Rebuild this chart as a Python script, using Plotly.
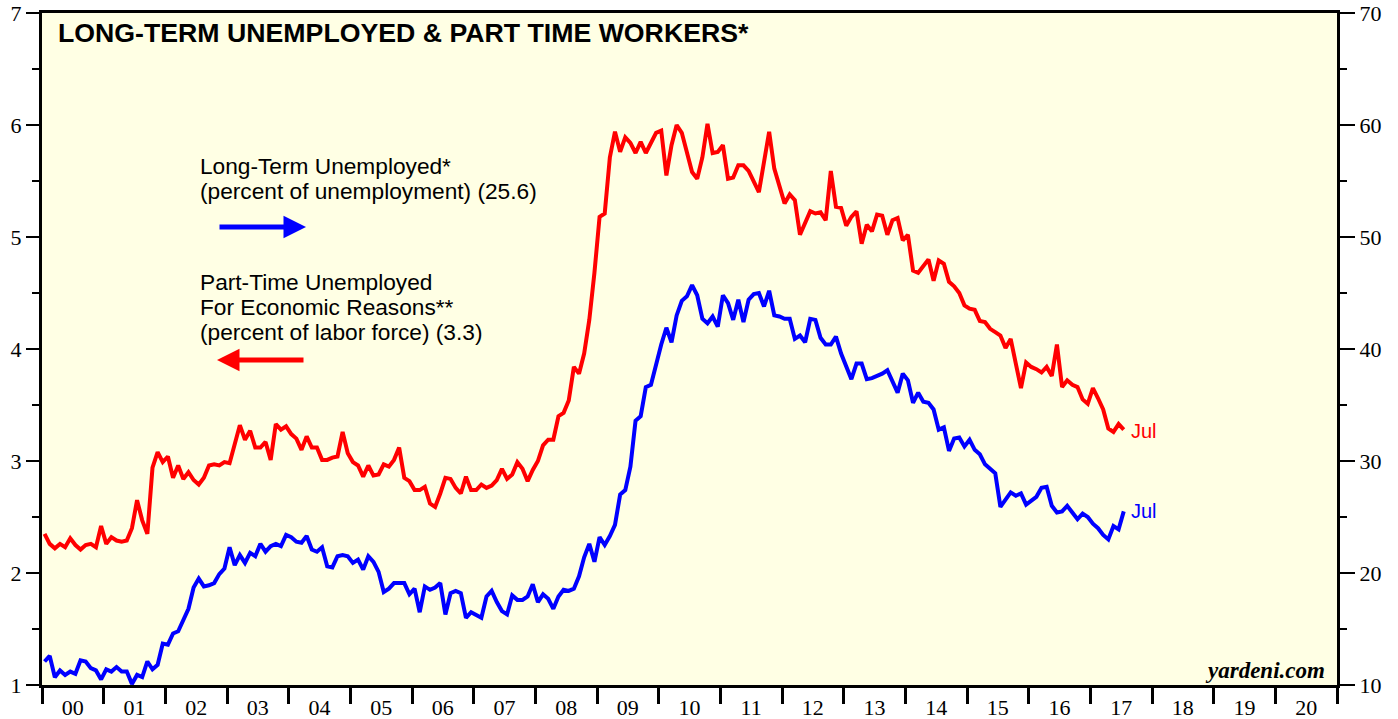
import plotly.graph_objects as go

# Part-time for economic reasons, percent of labor force (left axis), monthly Jan 2000 - Jul 2017
part_time = [
    2.35, 2.26, 2.22, 2.26, 2.23, 2.31, 2.25, 2.21, 2.25, 2.26, 2.23, 2.42,  # 2000
    2.26, 2.32, 2.29, 2.28, 2.29, 2.40, 2.65, 2.47, 2.35, 2.94, 3.08, 2.99,  # 2001
    3.04, 2.85, 2.96, 2.84, 2.90, 2.83, 2.79, 2.85, 2.96, 2.97, 2.96, 2.99,  # 2002
    2.98, 3.16, 3.32, 3.19, 3.27, 3.12, 3.12, 3.17, 3.01, 3.33, 3.28, 3.31,  # 2003
    3.24, 3.20, 3.10, 3.22, 3.12, 3.12, 3.01, 3.01, 3.03, 3.04, 3.26, 3.07,  # 2004
    2.99, 2.96, 2.86, 2.96, 2.87, 2.88, 2.97, 2.95, 3.01, 3.12, 2.85, 2.82,  # 2005
    2.74, 2.74, 2.77, 2.62, 2.59, 2.71, 2.85, 2.84, 2.76, 2.71, 2.86, 2.74,  # 2006
    2.74, 2.79, 2.76, 2.78, 2.83, 2.93, 2.84, 2.88, 2.99, 2.93, 2.82, 2.92,  # 2007
    3.00, 3.14, 3.19, 3.19, 3.40, 3.43, 3.54, 3.84, 3.78, 3.96, 4.26, 4.68,  # 2008
    5.18, 5.21, 5.71, 5.94, 5.76, 5.89, 5.84, 5.75, 5.85, 5.75, 5.84, 5.93,  # 2009
    5.95, 5.55, 5.82, 6.00, 5.93, 5.75, 5.58, 5.52, 5.71, 6.01, 5.75, 5.76,  # 2010
    5.82, 5.52, 5.53, 5.64, 5.64, 5.59, 5.49, 5.40, 5.67, 5.94, 5.61, 5.46,  # 2011
    5.30, 5.38, 5.33, 5.02, 5.12, 5.23, 5.21, 5.22, 5.15, 5.59, 5.27, 5.26,  # 2012
    5.10, 5.18, 5.23, 4.94, 5.11, 5.05, 5.20, 5.19, 5.02, 5.15, 5.17, 4.97,  # 2013
    5.02, 4.70, 4.68, 4.74, 4.80, 4.61, 4.79, 4.76, 4.60, 4.56, 4.50, 4.39,  # 2014
    4.36, 4.35, 4.25, 4.24, 4.18, 4.15, 4.12, 4.01, 4.09, 3.87, 3.65, 3.88,  # 2015
    3.84, 3.82, 3.79, 3.84, 3.76, 4.04, 3.66, 3.72, 3.68, 3.66, 3.55, 3.51,  # 2016
    3.65, 3.56, 3.46, 3.29, 3.26, 3.33, 3.28,                                # 2017
]

# Long-term unemployed, percent of unemployment (right axis)
long_term = [
    12.1, 12.6, 10.7, 11.3, 10.9, 11.2, 11.0, 12.2, 12.1, 11.5, 11.3, 10.5,  # 2000
    11.4, 11.2, 11.6, 11.2, 11.2, 10.1, 10.9, 10.7, 12.1, 11.4, 11.8, 13.7,  # 2001
    13.6, 14.6, 14.8, 15.8, 16.8, 18.7, 19.5, 18.8, 18.9, 19.1, 19.9, 20.4,  # 2002
    22.3, 20.7, 21.6, 20.9, 21.8, 21.5, 22.6, 21.9, 22.4, 22.6, 22.4, 23.4,  # 2003
    23.2, 22.8, 22.7, 23.3, 22.1, 21.9, 22.3, 20.6, 20.5, 21.5, 21.6, 21.5,  # 2004
    20.9, 21.2, 20.3, 21.5, 21.0, 20.1, 18.3, 18.6, 19.1, 19.1, 19.1, 18.1,  # 2005
    18.6, 16.5, 18.8, 18.5, 18.7, 19.1, 16.3, 18.2, 18.4, 18.2, 16.0, 16.5,  # 2006
    16.2, 16.0, 17.9, 18.4, 17.4, 16.6, 16.3, 18.0, 17.6, 17.6, 17.9, 19.0,  # 2007
    17.4, 18.1, 17.7, 16.8, 17.9, 18.5, 18.4, 18.6, 19.7, 21.4, 22.6, 21.0,  # 2008
    23.2, 22.5, 23.3, 24.3, 27.0, 27.4, 29.5, 33.6, 34.0, 36.6, 36.8, 38.7,  # 2009
    40.4, 41.9, 40.6, 43.0, 44.3, 44.7, 45.7, 44.8, 42.7, 42.3, 42.9, 42.0,  # 2010
    44.8, 44.1, 42.6, 44.4, 42.4, 44.4, 44.9, 45.0, 43.8, 45.2, 43.0, 42.9,  # 2011
    42.7, 42.7, 40.9, 41.2, 40.6, 42.7, 42.6, 41.0, 40.4, 40.4, 41.1, 39.6,  # 2012
    38.4, 37.3, 38.7, 38.7, 37.3, 37.4, 37.6, 37.8, 38.1, 37.0, 36.1, 37.8,  # 2013
    37.2, 35.2, 36.1, 35.3, 35.2, 34.6, 32.8, 33.0, 30.9, 32.0, 32.1, 31.3,  # 2014
    31.9, 31.0, 30.6, 29.7, 29.3, 28.9, 25.9, 26.5, 27.2, 26.9, 27.1, 26.1,  # 2015
    26.4, 26.8, 27.6, 27.7, 26.0, 25.4, 25.5, 26.0, 25.4, 24.8, 25.3, 25.0,  # 2016
    24.4, 24.0, 23.4, 23.0, 24.2, 23.9, 25.5,                                # 2017
]

start_year = 2000
years = list(range(2000, 2022))
year_labels = ["%02d" % (y % 100) for y in range(2000, 2021)]
left_ticks = [1, 2, 3, 4, 5, 6, 7]
right_ticks = [10, 20, 30, 40, 50, 60, 70]

x_red = [start_year + (i + 0.5) / 12 for i in range(len(part_time))]
x_blue = [start_year + (i + 0.5) / 12 for i in range(len(long_term))]

RED = "#ff0000"
BLUE = "#0000ff"
SANS = "Liberation Sans, Arial, sans-serif"
SERIF = "Liberation Serif, Times New Roman, serif"

fig = go.Figure()
fig.add_trace(go.Scatter(x=x_red, y=part_time, mode="lines",
                         line=dict(color=RED, width=4), yaxis="y",
                         showlegend=False, hoverinfo="skip"))
fig.add_trace(go.Scatter(x=x_blue, y=long_term, mode="lines",
                         line=dict(color=BLUE, width=4), yaxis="y2",
                         showlegend=False, hoverinfo="skip"))

W, H = 1398, 719
L, R, T, B = 42, 61, 13, 34

fig.update_layout(
    width=W, height=H,
    margin=dict(l=L, r=R, t=T, b=B),
    paper_bgcolor="white",
    plot_bgcolor="#ffffe4",
    showlegend=False,
    xaxis=dict(
        range=[2000, 2021], automargin=False,
        tickmode="array",
        tickvals=[y + 0.5 for y in range(2000, 2021)],
        ticktext=year_labels,
        ticks="outside", ticklen=1, tickcolor="rgba(0,0,0,0)",
        tickfont=dict(family=SERIF, size=22, color="black"),
        showgrid=False, zeroline=False,
        showline=True, linecolor="black", linewidth=3, mirror=True,
        minor=dict(tickmode="array", tickvals=years, ticks="outside",
                   ticklen=16, tickwidth=3, tickcolor="black", showgrid=False),
        fixedrange=True,
    ),
    yaxis=dict(
        range=[1, 7], automargin=False,
        tickmode="array", tickvals=left_ticks,
        ticks="outside", ticklen=13, tickwidth=1.5, tickcolor="black",
        tickfont=dict(family=SERIF, size=22, color="black"),
        showgrid=False, zeroline=False,
        showline=True, linecolor="black", linewidth=3,
        minor=dict(dtick=0.5, tick0=1, ticks="outside", ticklen=7,
                   tickwidth=1.5, tickcolor="black", showgrid=False),
    ),
    yaxis2=dict(
        range=[10, 70], overlaying="y", side="right", automargin=False,
        tickmode="array", tickvals=right_ticks,
        ticks="outside", ticklen=15, tickwidth=1.5, tickcolor="black",
        tickfont=dict(family=SERIF, size=22, color="black"),
        showgrid=False, zeroline=False,
        showline=True, linecolor="black", linewidth=3,
        minor=dict(dtick=5, tick0=10, ticks="outside", ticklen=7,
                   tickwidth=1.5, tickcolor="black", showgrid=False),
    ),
)

pw, ph = W - L - R, H - T - B


def px(xp):
    return (xp - L) / pw


def py(yp):
    return (H - B - yp) / ph


ann = []
ann.append(dict(text="<b>LONG-TERM UNEMPLOYED & PART TIME WORKERS*</b>",
                x=px(56), y=py(33), xref="paper", yref="paper",
                xanchor="left", yanchor="middle", showarrow=False,
                font=dict(family=SANS, size=26.7, color="black")))

legend_lines = [
    ("Long-Term Unemployed*", 166),
    ("(percent of unemployment) (25.6)", 191),
    ("Part-Time Unemployed", 282),
    ("For Economic Reasons**", 307),
    ("(percent of labor force) (3.3)", 332),
]
for txt, yy in legend_lines:
    ann.append(dict(text=txt, x=px(199), y=py(yy), xref="paper", yref="paper",
                    xanchor="left", yanchor="middle", showarrow=False,
                    borderpad=0,
                    font=dict(family=SANS, size=22.7, color="black")))

# arrows
ann.append(dict(text="", x=px(306), y=py(227), xref="paper", yref="paper",
                ax=-88, ay=0, showarrow=True, arrowhead=2, arrowsize=0.9,
                arrowwidth=5, arrowcolor=BLUE))
ann.append(dict(text="", x=px(217), y=py(360), xref="paper", yref="paper",
                ax=88, ay=0, showarrow=True, arrowhead=2, arrowsize=0.9,
                arrowwidth=5, arrowcolor=RED))

ann.append(dict(text="Jul", x=x_red[-1], y=part_time[-1], xref="x", yref="y",
                xanchor="left", yanchor="middle", xshift=5, yshift=-1,
                showarrow=False, font=dict(family=SANS, size=20, color=RED)))
ann.append(dict(text="Jul", x=x_blue[-1], y=long_term[-1], xref="x", yref="y2",
                xanchor="left", yanchor="middle", xshift=5,
                showarrow=False, font=dict(family=SANS, size=20, color=BLUE)))

ann.append(dict(text="<b><i>yardeni.com</i></b>", x=px(1327), y=py(670),
                xref="paper", yref="paper", xanchor="right", yanchor="middle",
                showarrow=False, font=dict(family=SERIF, size=23, color="black")))

fig.update_layout(annotations=ann)
fig.write_html(
    "out.html",
    config={"displayModeBar": False},
    post_script="document.body.style.margin='0px';document.body.style.overflow='hidden';",
)
